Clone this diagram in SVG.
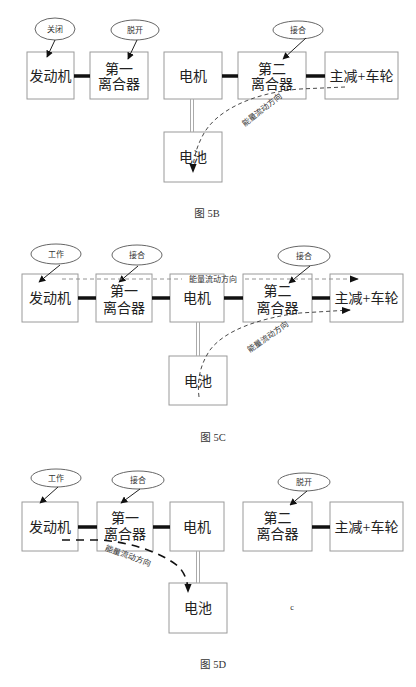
<svg xmlns="http://www.w3.org/2000/svg" width="416" height="687" viewBox="0 0 416 687">
<defs>
<marker id="ah" viewBox="0 0 10 10" refX="9" refY="5" markerWidth="7" markerHeight="7" orient="auto" markerUnits="userSpaceOnUse"><path d="M0,0 L10,5 L0,10 z" fill="#111"/></marker>
<marker id="ah2" viewBox="0 0 10 10" refX="9" refY="5" markerWidth="9" markerHeight="9" orient="auto" markerUnits="userSpaceOnUse"><path d="M0,1 L10,5 L0,9 z" fill="#111"/></marker>
</defs>
<style>
.box{fill:#fff;stroke:#9a9a9a;stroke-width:1}
.ell{fill:#fff;stroke:#555;stroke-width:0.9}
.t{font-family:"Liberation Serif","Noto Sans CJK SC",serif;font-size:14px;fill:#222;text-anchor:middle;dominant-baseline:central}
.s{font-family:"Liberation Serif","Noto Sans CJK SC",serif;font-size:8px;fill:#333;text-anchor:middle;dominant-baseline:central}
.cap{font-family:"Liberation Serif","Noto Sans CJK SC",serif;font-size:10.5px;fill:#333;text-anchor:middle;dominant-baseline:central}
.arr{stroke:#222;stroke-width:1;fill:none;marker-end:url(#ah)}
.thick{stroke:#111;stroke-width:3.5}
.dbl{stroke:#aaa;stroke-width:1;fill:none}
.dash{stroke:#333;stroke-width:0.9;fill:none;stroke-dasharray:4 3}
.dashc{stroke:#888;stroke-width:0.9;fill:none;stroke-dasharray:4 3}
.dashb{stroke:#111;stroke-width:1.6;fill:none;stroke-dasharray:8 6}
</style>
<rect width="416" height="687" fill="#fff"/>

<!-- ===== 5B ===== -->
<g id="b-engine"><rect class="box" x="27" y="52" width="47" height="47"/><text class="t" x="50.5" y="76">发动机</text></g>
<g id="b-clutch1"><rect class="box" x="90" y="52" width="58" height="47"/><text class="t" x="119" y="69">第一</text><text class="t" x="119" y="84">离合器</text></g>
<g id="b-motor"><rect class="box" x="164" y="52" width="58" height="47"/><text class="t" x="193" y="76">电机</text></g>
<g id="b-clutch2"><rect class="box" x="238" y="52" width="68" height="47"/><text class="t" x="272" y="69">第二</text><text class="t" x="272" y="84">离合器</text></g>
<g id="b-wheel"><rect class="box" x="325" y="52" width="73" height="47"/><text class="t" x="361.5" y="76">主减+车轮</text></g>
<g id="b-battery"><rect class="box" x="164" y="132" width="58" height="50"/><text class="t" x="193" y="157">电池</text></g>
<g id="b-e1"><ellipse class="ell" cx="55" cy="29" rx="20" ry="11"/><text class="s" x="55" y="29">关闭</text></g>
<g id="b-e2"><ellipse class="ell" cx="135" cy="30" rx="24" ry="10"/><text class="s" x="135" y="30">脱开</text></g>
<g id="b-e3"><ellipse class="ell" cx="298" cy="30" rx="25" ry="9"/><text class="s" x="298" y="30">接合</text></g>
<g id="b-connectors">
<line class="arr" x1="55" y1="40" x2="47" y2="57"/>
<line class="arr" x1="137" y1="40" x2="128" y2="59"/>
<line class="arr" x1="306" y1="38" x2="283" y2="59"/>
<line class="thick" x1="74" y1="76" x2="90" y2="76"/>
<line class="thick" x1="222" y1="76" x2="238" y2="76"/>
<line class="thick" x1="306" y1="76" x2="325" y2="76"/>
<line class="dbl" x1="190.5" y1="99" x2="190.5" y2="132"/><line class="dbl" x1="193.5" y1="99" x2="193.5" y2="132"/>
<path class="dash" d="M345,87 L300,89 C250,93 215,112 203,135 C196,148 193,160 193,172" marker-end="url(#ah2)"/>
<text class="s" transform="translate(262,110) rotate(-38)">能量流动方向</text>
</g>
<text class="cap" x="207" y="213">图 5B</text>

<!-- ===== 5C ===== -->
<g id="c-engine"><rect class="box" x="22" y="274" width="56" height="48"/><text class="t" x="50" y="298">发动机</text></g>
<g id="c-clutch1"><rect class="box" x="96" y="274" width="56" height="48"/><text class="t" x="124" y="291">第一</text><text class="t" x="124" y="308">离合器</text></g>
<g id="c-motor"><rect class="box" x="170" y="274" width="54" height="48"/><text class="t" x="197" y="298">电机</text></g>
<g id="c-clutch2"><rect class="box" x="243" y="274" width="69" height="48"/><text class="t" x="277.5" y="291">第二</text><text class="t" x="277.5" y="308">离合器</text></g>
<g id="c-wheel"><rect class="box" x="330" y="274" width="73" height="48"/><text class="t" x="366.5" y="298">主减+车轮</text></g>
<g id="c-battery"><rect class="box" x="169" y="356" width="58" height="49"/><text class="t" x="198" y="381">电池</text></g>
<g id="c-e1"><ellipse class="ell" cx="56" cy="254" rx="25" ry="10"/><text class="s" x="56" y="254">工作</text></g>
<g id="c-e2"><ellipse class="ell" cx="137" cy="255" rx="25" ry="10"/><text class="s" x="137" y="255">接合</text></g>
<g id="c-e3"><ellipse class="ell" cx="304" cy="256" rx="26" ry="10"/><text class="s" x="304" y="256">接合</text></g>
<g id="c-connectors">
<line class="arr" x1="60" y1="265" x2="39" y2="282"/>
<line class="arr" x1="138" y1="266" x2="119" y2="282"/>
<line class="arr" x1="310" y1="266" x2="289" y2="283"/>
<line class="thick" x1="78" y1="298" x2="96" y2="298"/>
<line class="thick" x1="152" y1="298" x2="170" y2="298"/>
<line class="thick" x1="224" y1="298" x2="243" y2="298"/>
<line class="thick" x1="312" y1="298" x2="330" y2="298"/>
<line class="dbl" x1="196.5" y1="322" x2="196.5" y2="356"/><line class="dbl" x1="199.5" y1="322" x2="199.5" y2="356"/>
<path class="dashc" d="M62,279 L182,279 M245,279 L358,279" marker-end="url(#ah2)"/>
<text class="s" x="213" y="279">能量流动方向</text>
<path class="dash" d="M199,397 C197,380 200,365 210,350 C225,330 260,318 300,313 L350,310" marker-end="url(#ah2)"/>
<text class="s" transform="translate(268,337) rotate(-35)">能量流动方向</text>
</g>
<text class="cap" x="213" y="437">图 5C</text>

<!-- ===== 5D ===== -->
<g id="d-engine"><rect class="box" x="22" y="502" width="56" height="49"/><text class="t" x="50" y="527">发动机</text></g>
<g id="d-clutch1"><rect class="box" x="97" y="502" width="56" height="49"/><text class="t" x="125" y="518">第一</text><text class="t" x="125" y="534">离合器</text></g>
<g id="d-motor"><rect class="box" x="170" y="502" width="54" height="49"/><text class="t" x="197" y="527">电机</text></g>
<g id="d-clutch2"><rect class="box" x="243" y="502" width="69" height="49"/><text class="t" x="277.5" y="518">第二</text><text class="t" x="277.5" y="534">离合器</text></g>
<g id="d-wheel"><rect class="box" x="330" y="502" width="73" height="49"/><text class="t" x="366.5" y="527">主减+车轮</text></g>
<g id="d-battery"><rect class="box" x="169" y="583" width="58" height="50"/><text class="t" x="198" y="608">电池</text></g>
<g id="d-e1"><ellipse class="ell" cx="56" cy="478" rx="25" ry="9"/><text class="s" x="56" y="478">工作</text></g>
<g id="d-e2"><ellipse class="ell" cx="138" cy="480" rx="26" ry="9"/><text class="s" x="138" y="480">接合</text></g>
<g id="d-e3"><ellipse class="ell" cx="304" cy="482" rx="26" ry="9"/><text class="s" x="304" y="482">脱开</text></g>
<g id="d-connectors">
<line class="arr" x1="58" y1="487" x2="40" y2="503"/>
<line class="arr" x1="140" y1="489" x2="121" y2="503"/>
<line class="arr" x1="307" y1="491" x2="290" y2="505"/>
<line class="thick" x1="78" y1="527" x2="97" y2="527"/>
<line class="thick" x1="153" y1="527" x2="170" y2="527"/>
<line class="thick" x1="312" y1="527" x2="330" y2="527"/>
<line class="dbl" x1="196.5" y1="551" x2="196.5" y2="583"/><line class="dbl" x1="199.5" y1="551" x2="199.5" y2="583"/>
<path class="dashb" d="M62,540 L100,540 C130,542 160,552 178,566 C185,573 188,582 188,592" marker-end="url(#ah2)"/>
<text class="s" transform="translate(128,556) rotate(20)">能量流动方向</text>
</g>
<text x="292" y="607" font-family="Liberation Serif, serif" font-size="8" fill="#222" text-anchor="middle" dominant-baseline="central">c</text>
<text class="cap" x="213" y="664">图 5D</text>
</svg>
